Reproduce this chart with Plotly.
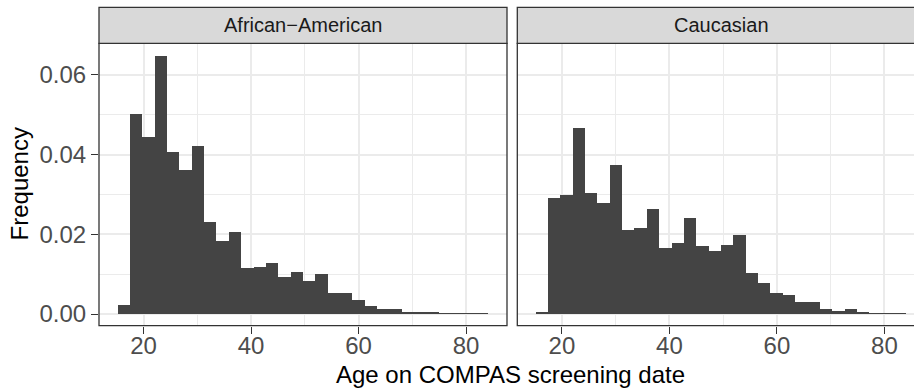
import plotly.graph_objects as go

W, H = 914, 389

# ---- data (density histogram, 30 bins) ----
bin_start = 15.15
bin_width = 2.3
groups = ["African−American", "Caucasian"]
african_american = [0.0021, 0.0501, 0.0444, 0.0646, 0.0405, 0.0361, 0.0421, 0.0231,
                    0.0182, 0.0206, 0.0115, 0.0118, 0.0128, 0.0091, 0.0106, 0.0082,
                    0.0101, 0.0051, 0.0051, 0.0035, 0.0020, 0.0013, 0.0011, 0.0003,
                    0.0003, 0.0005, 0.0001, 0.0001, 0.0001, 0.0001]
caucasian = [0.0003, 0.0291, 0.0298, 0.0466, 0.0303, 0.0278, 0.0372, 0.0209,
             0.0214, 0.0264, 0.0166, 0.0177, 0.0239, 0.0169, 0.0157, 0.0173,
             0.0198, 0.0102, 0.0077, 0.0052, 0.0046, 0.0030, 0.0030, 0.0012,
             0.0008, 0.0012, 0.0005, 0.0001, 0.0001, 0.0001]
x_ticks = [20, 40, 60, 80]
x_minor = [10, 30, 50, 70, 90]
y_ticks = [0.00, 0.02, 0.04, 0.06]
y_tick_labels = ["0.00", "0.02", "0.04", "0.06"]
y_minor = [0.01, 0.03, 0.05]
x_title = "Age on COMPAS screening date"
y_title = "Frequency"

centers = [bin_start + bin_width * (i + 0.5) for i in range(len(african_american))]

def fx(p):
    return p / W

def fy(p):
    return 1 - p / H

# layout geometry (pixels)
p1_left, p1_right = 99, 507
p2_left = 517.3
panel_top, panel_bottom = 43.5, 327.3
strip_top = 7.5
px_per_unit = 5.375
x_lo = 11.7
x_hi1 = x_lo + (p1_right - p1_left) / px_per_unit
x_hi2 = x_lo + (W - p2_left) / px_per_unit
y_range = [-0.0029, 0.0679]

bar_color = "#444444"
grid_major = "#EBEBEB"
border = "#333333"
font = "Liberation Sans, Arial, Helvetica, sans-serif"

fig = go.Figure()
fig.add_trace(go.Bar(x=centers, y=african_american, width=bin_width,
                     marker=dict(color=bar_color, line=dict(width=0)),
                     xaxis="x", yaxis="y", showlegend=False))
fig.add_trace(go.Bar(x=centers, y=caucasian, width=bin_width,
                     marker=dict(color=bar_color, line=dict(width=0)),
                     xaxis="x2", yaxis="y2", showlegend=False))

xcommon = dict(tickvals=x_ticks, ticktext=[str(v) for v in x_ticks],
               ticks="outside", ticklen=7, tickwidth=1.2, tickcolor=border,
               ticklabelstandoff=-8,
               tickfont=dict(family=font, size=24, color="#4D4D4D"),
               showgrid=True, gridcolor=grid_major, gridwidth=1.6,
               minor=dict(tickvals=x_minor, showgrid=True, gridcolor=grid_major,
                          gridwidth=0.8, ticks=""),
               zeroline=False, showline=False, fixedrange=True)
ycommon = dict(range=y_range, domain=[fy(panel_bottom), fy(panel_top)],
               tickvals=y_ticks, ticktext=y_tick_labels,
               showgrid=True, gridcolor=grid_major, gridwidth=1.6,
               minor=dict(tickvals=y_minor, showgrid=True, gridcolor=grid_major,
                          gridwidth=0.8, ticks=""),
               zeroline=False, showline=False, fixedrange=True)

fig.update_layout(
    width=W, height=H,
    margin=dict(l=0, r=0, t=0, b=0),
    paper_bgcolor="white", plot_bgcolor="white",
    bargap=0,
    xaxis=dict(domain=[fx(p1_left), fx(p1_right)], range=[x_lo, x_hi1],
               anchor="y", **xcommon),
    xaxis2=dict(domain=[fx(p2_left), 1.0], range=[x_lo, x_hi2],
                anchor="y2", **xcommon),
    yaxis=dict(anchor="x", ticks="outside", ticklen=7, tickwidth=1.2,
               tickcolor=border,
               tickfont=dict(family=font, size=24, color="#4D4D4D"),
               **ycommon),
    yaxis2=dict(anchor="x2", ticks="", showticklabels=False, **ycommon),
)

shapes = []
# panel borders
shapes.append(dict(type="rect", xref="paper", yref="paper",
                   x0=fx(p1_left), x1=fx(p1_right), y0=fy(panel_bottom), y1=fy(panel_top),
                   line=dict(color=border, width=1.3), fillcolor="rgba(0,0,0,0)", layer="above"))
shapes.append(dict(type="rect", xref="paper", yref="paper",
                   x0=fx(p2_left), x1=1.02, y0=fy(panel_bottom), y1=fy(panel_top),
                   line=dict(color=border, width=1.3), fillcolor="rgba(0,0,0,0)", layer="above"))
# strips
shapes.append(dict(type="rect", xref="paper", yref="paper",
                   x0=fx(p1_left), x1=fx(p1_right), y0=fy(panel_top), y1=fy(strip_top),
                   line=dict(color=border, width=1.3), fillcolor="#D9D9D9", layer="above"))
shapes.append(dict(type="rect", xref="paper", yref="paper",
                   x0=fx(p2_left), x1=1.02, y0=fy(panel_top), y1=fy(strip_top),
                   line=dict(color=border, width=1.3), fillcolor="#D9D9D9", layer="above"))
fig.update_layout(shapes=shapes)

strip_cy = (strip_top + panel_top) / 2
annotations = [
    dict(text=groups[0], xref="paper", yref="paper", x=fx((p1_left + p1_right) / 2),
         y=fy(strip_cy), xanchor="center", yanchor="middle", showarrow=False,
         font=dict(family=font, size=20, color="#1A1A1A")),
    dict(text=groups[1], xref="paper", yref="paper", x=fx(721),
         y=fy(strip_cy), xanchor="center", yanchor="middle", showarrow=False,
         font=dict(family=font, size=20, color="#1A1A1A")),
    dict(text=x_title, xref="paper", yref="paper", x=fx(510), y=fy(376),
         xanchor="center", yanchor="middle", showarrow=False,
         font=dict(family=font, size=24, color="black")),
    dict(text=y_title, xref="paper", yref="paper", x=fx(19),
         y=fy((panel_top + panel_bottom) / 2), xanchor="center", yanchor="middle",
         textangle=-90, showarrow=False,
         font=dict(family=font, size=24, color="black")),
]
fig.update_layout(annotations=annotations)

fig.write_html("out.html")
